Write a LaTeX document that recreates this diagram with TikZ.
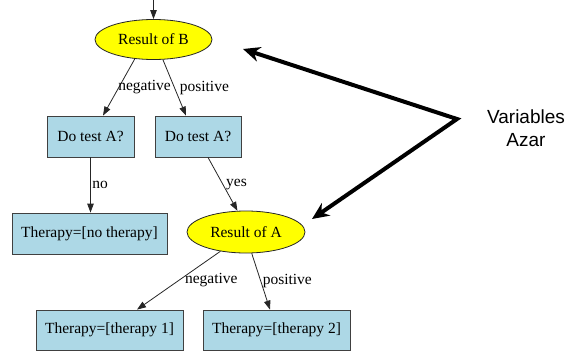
\documentclass[tikz,border=0pt]{standalone}
\usepackage{fontspec}
\setmainfont{Liberation Serif}
\newfontfamily\labelsans{Liberation Sans}
\usetikzlibrary{shapes.geometric,arrows.meta}
\definecolor{boxblue}{HTML}{ADD8E6}
\definecolor{nodeyellow}{HTML}{FFFF00}
\tikzset{
  chance/.style={ellipse, draw=black!85, line width=0.8pt, fill=nodeyellow,
    inner sep=0pt, font=\rmfamily\fontsize{15.5}{17}\selectfont},
  decision/.style={rectangle, draw=black!75, line width=0.8pt, fill=boxblue,
    inner sep=0pt, font=\rmfamily\fontsize{15.5}{17}\selectfont},
  edge/.style={draw=black!85, line width=0.8pt, -{Triangle[length=9pt,width=6.5pt]}},
  elabel/.style={font=\rmfamily\fontsize{15.5}{17}\selectfont, inner sep=0pt, anchor=west},
  pointer/.style={line width=4pt, line join=miter,
    {Stealth[length=17pt,width=15pt]}-{Stealth[length=17pt,width=15pt]}}
}
\begin{document}
\begin{tikzpicture}[x=1pt,y=-1pt]
\useasboundingbox (0,0) rectangle (568,351);

% chance and decision nodes
\node[chance, minimum width=117pt, minimum height=40pt] (B) at (153.5,39.5) {Result of B};
\node[decision, minimum width=87pt, minimum height=41pt] (L) at (90.5,136.5) {Do test A?};
\node[decision, minimum width=86pt, minimum height=41pt] (R) at (198,136.5) {Do test A?};
\node[decision, minimum width=155pt, minimum height=41pt] (N) at (89.5,233.5) {Therapy=[no therapy]};
\node[chance, minimum width=118pt, minimum height=42pt] (A) at (246,232) {Result of A};
\node[decision, minimum width=147pt, minimum height=40pt] (T1) at (109.5,330) {Therapy=[therapy 1]};
\node[decision, minimum width=147pt, minimum height=40pt] (T2) at (276.5,330) {Therapy=[therapy 2]};

% entry edge
\coordinate (entry) at (153.5,0);
\draw[edge] (entry) -- (B.north);

% tree edges with their labels
\draw[edge] (B.226) -- node[elabel, pos=0.5, xshift=-1pt] {negative} ([xshift=12.5pt]L.north);
\draw[edge] (B.295) -- node[elabel, pos=0.5, xshift=5pt] {positive} ([xshift=-12pt]R.north);
\draw[edge] (L.south) -- node[elabel, pos=0.5, xshift=1.5pt] {no} (L.south |- N.north);
\draw[edge] ([xshift=10pt]R.south) -- node[elabel, pos=0.5, xshift=3pt] {yes} (A.112);
\draw[edge] (A.217) -- node[elabel, pos=0.5, xshift=6pt] {negative} ([xshift=27.5pt]T1.north);
\draw[edge] (A.285) -- node[elabel, pos=0.5, xshift=1.5pt] {positive} ([xshift=-6.5pt]T2.north);

% annotation
\node[font=\labelsans\fontsize{19}{23}\selectfont, align=center, inner sep=0pt] (V) at (526,128.5) {Variables\\Azar};
\coordinate (hub) at (457,119);
\coordinate (tipB) at (243,49);
\coordinate (tipA) at (312,219);
\draw[pointer] (tipB) -- (hub) -- (tipA);
\end{tikzpicture}
\end{document}
